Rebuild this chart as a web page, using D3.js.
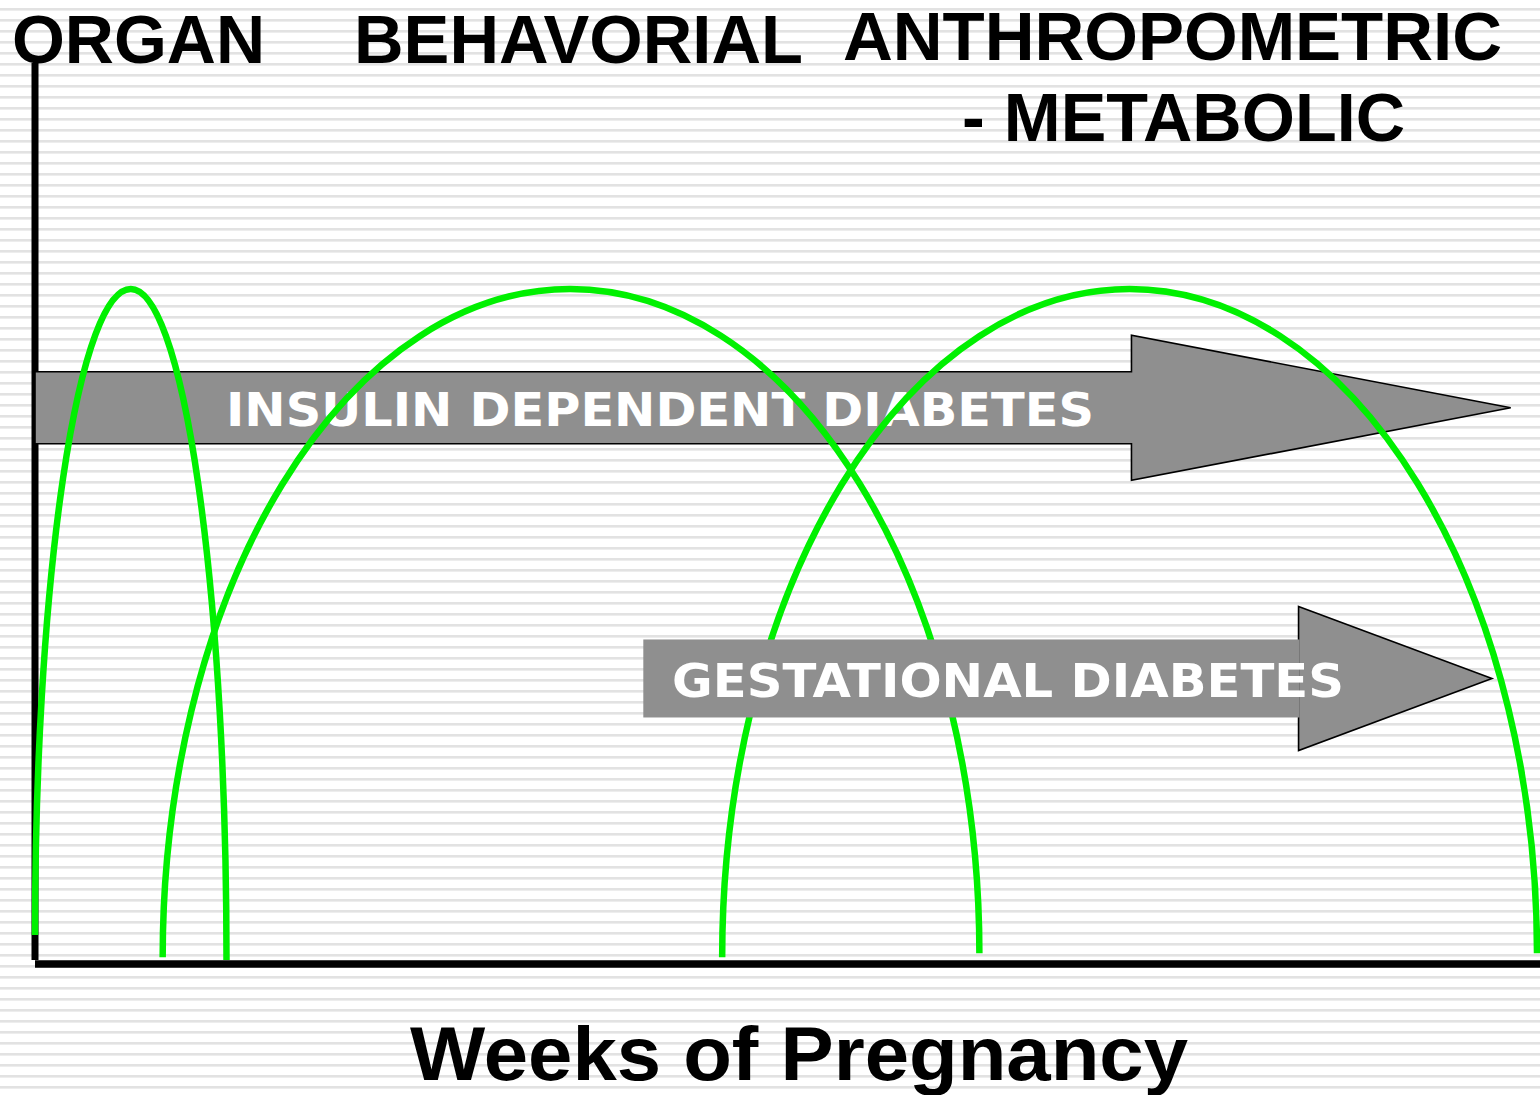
<!DOCTYPE html>
<html>
<head>
<meta charset="utf-8">
<script src="https://cdn.jsdelivr.net/npm/d3@7"></script>
<style>
    html, body { margin: 0; padding: 0; background: #fff; }
    svg { display: block; }
</style>
</head>
<body>
<svg id="chart"></svg>
<script>
// developmental phases (weeks of pregnancy, level 0-100)
const phases = ['ORGAN', 'BEHAVORIAL', 'ANTHROPOMETRIC - METABOLIC'];
const phaseStart = [0, 3.4, 18.3];
const phasePeakWeek = [2.55, 14.25, 29.15];
const phaseEnd = [5.1, 25.15, 40];
const phasePeak = [100, 100, 100];
const phaseStartLevel = [4.3, 1.0, 1.0];
const phaseEndLevel = [0.6, 1.6, 1.6];

// diabetes exposure arrows
const risks = ['INSULIN DEPENDENT DIABETES', 'GESTATIONAL DIABETES'];
const riskFrom = [0, 16.2];
const riskHeadAt = [29.2, 33.65];
const riskTo = [39.3, 38.8];
const riskLevel = [82.4, 42.3];

const axisTitle = 'Weeks of Pregnancy';

class PhaseChart {

    constructor(_config) {
        this.config = {
            parentElement: _config.parentElement,
            width: _config.width || 1540,
            height: _config.height || 1095,
            origin: {x: 35, y: 964},
            right: 1537,
            peakY: 289
        };
        this.initVis();
    }

    initVis() {
        let vis = this;

        vis.svg = d3.select(vis.config.parentElement)
            .attr('width', vis.config.width)
            .attr('height', vis.config.height);

        vis.x = d3.scaleLinear().domain([0, 40])
            .range([vis.config.origin.x, vis.config.right]);
        vis.y = d3.scaleLinear().domain([0, 100])
            .range([vis.config.origin.y, vis.config.peakY]);
    }

    render() {
        let vis = this;

        // striped background
        vis.svg.append('g')
            .selectAll('rect')
            .data(d3.range(8, vis.config.height, 11))
            .join('rect')
            .attr('x', 0)
            .attr('y', d => d)
            .attr('width', vis.config.width)
            .attr('height', 2.6)
            .attr('fill', '#e2e2e2');

        // axes
        vis.svg.append('line')
            .attr('x1', vis.x(0)).attr('x2', vis.x(0))
            .attr('y1', 63).attr('y2', 960)
            .attr('stroke', '#000').attr('stroke-width', 7);
        vis.svg.append('line')
            .attr('x1', vis.x(0)).attr('x2', vis.config.width)
            .attr('y1', vis.config.origin.y).attr('y2', vis.config.origin.y)
            .attr('stroke', '#000').attr('stroke-width', 7.5);

        const sizes = [{body: 36, head: 72.5}, {body: 39, head: 72}];
        const arrows = risks.map((name, i) => ({
            name,
            x0: vis.x(riskFrom[i]),
            xh: vis.x(riskHeadAt[i]),
            xt: vis.x(riskTo[i]),
            c: vis.y(riskLevel[i]),
            bh: sizes[i].body,
            hh: sizes[i].head
        }));

        // insulin dependent arrow (fully outlined), under the curves
        const a0 = arrows[0];
        vis.svg.append('polygon')
            .attr('points', [
                [a0.x0, a0.c - a0.bh], [a0.xh, a0.c - a0.bh], [a0.xh, a0.c - a0.hh],
                [a0.xt, a0.c], [a0.xh, a0.c + a0.hh], [a0.xh, a0.c + a0.bh], [a0.x0, a0.c + a0.bh]
            ].join(' '))
            .attr('fill', '#8f8f8f')
            .attr('stroke', '#000')
            .attr('stroke-width', 1.6);
        vis.svg.append('text')
            .attr('x', 226)
            .attr('y', a0.c + 18)
            .attr('font-family', 'DejaVu Sans, Verdana, sans-serif')
            .attr('font-weight', 'bold')
            .attr('font-size', 46)
            .attr('fill', '#fff')
            .attr('textLength', 868)
            .attr('lengthAdjust', 'spacingAndGlyphs')
            .text(a0.name);

        // phase curves
        const curves = phases.map((name, i) => ({
            name,
            x0: vis.x(phaseStart[i]), y0: vis.y(phaseStartLevel[i]),
            xp: vis.x(phasePeakWeek[i]), yp: vis.y(phasePeak[i]),
            x1: vis.x(phaseEnd[i]), y1: vis.y(phaseEndLevel[i])
        }));

        vis.svg.append('g')
            .attr('fill', 'none')
            .attr('stroke', '#00f000')
            .attr('stroke-width', 6.5)
            .selectAll('path')
            .data(curves)
            .join('path')
            .attr('d', d => `M${d.x0},${d.y0}
                A${d.xp - d.x0},${d.y0 - d.yp} 0 0 1 ${d.xp},${d.yp}
                A${d.x1 - d.xp},${d.y1 - d.yp} 0 0 1 ${d.x1},${d.y1}`);

        // gestational arrow: outlined head, plain body, drawn over curves
        const a1 = arrows[1];
        vis.svg.append('polygon')
            .attr('points', [
                [a1.xh, a1.c - a1.hh], [a1.xt, a1.c], [a1.xh, a1.c + a1.hh]
            ].join(' '))
            .attr('fill', '#8f8f8f')
            .attr('stroke', '#000')
            .attr('stroke-width', 1.6);
        vis.svg.append('rect')
            .attr('x', a1.x0)
            .attr('y', a1.c - a1.bh)
            .attr('width', a1.xh - a1.x0 + 1)
            .attr('height', a1.bh * 2)
            .attr('fill', '#8f8f8f');
        vis.svg.append('text')
            .attr('x', 672)
            .attr('y', a1.c + 19)
            .attr('font-family', 'DejaVu Sans, Verdana, sans-serif')
            .attr('font-weight', 'bold')
            .attr('font-size', 47)
            .attr('fill', '#fff')
            .attr('textLength', 672)
            .attr('lengthAdjust', 'spacingAndGlyphs')
            .text(a1.name);

        // phase titles
        const titles = [
            {text: 'ORGAN', x: 12, y: 63, size: 69, len: 253},
            {text: 'BEHAVORIAL', x: 354, y: 63, size: 69, len: 449},
            {text: 'ANTHROPOMETRIC', x: 843, y: 60, size: 68, len: 659},
            {text: '- METABOLIC', x: 962, y: 141, size: 69, len: 443}
        ];
        vis.svg.append('g')
            .attr('font-family', 'Liberation Sans, Arial, sans-serif')
            .attr('font-weight', 'bold')
            .attr('fill', '#000')
            .selectAll('text')
            .data(titles)
            .join('text')
            .attr('x', d => d.x)
            .attr('y', d => d.y)
            .attr('font-size', d => d.size)
            .attr('textLength', d => d.len)
            .attr('lengthAdjust', 'spacingAndGlyphs')
            .text(d => d.text);

        // x axis title
        vis.svg.append('text')
            .attr('x', 410)
            .attr('y', 1080)
            .attr('font-family', 'Liberation Sans, Arial, sans-serif')
            .attr('font-weight', 'bold')
            .attr('font-size', 76)
            .attr('textLength', 778)
            .attr('lengthAdjust', 'spacingAndGlyphs')
            .text(axisTitle);
    }
}

const chart = new PhaseChart({parentElement: '#chart'});
chart.render();
</script>
</body>
</html>
